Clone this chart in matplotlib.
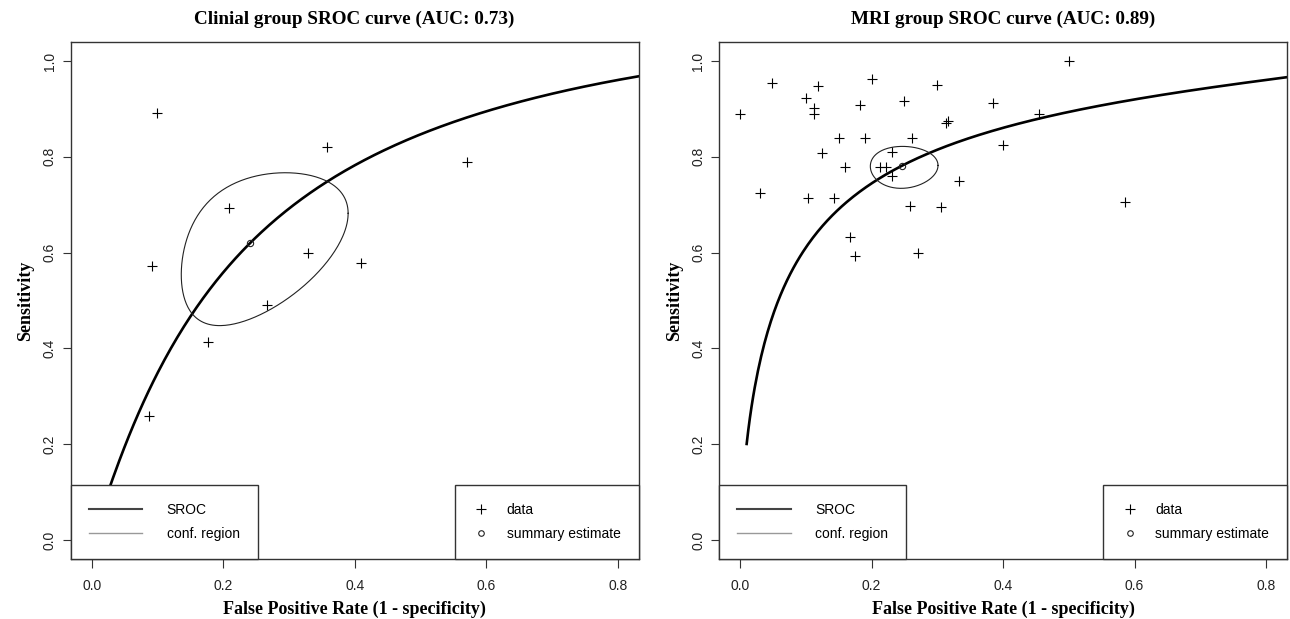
import numpy as np
import matplotlib.pyplot as plt
from matplotlib.lines import Line2D

# clinical group: study points (1 - specificity, sensitivity)
clin_fpr = [0.099, 0.358, 0.571, 0.209, 0.329, 0.092, 0.410, 0.266, 0.177, 0.087]
clin_sens = [0.891, 0.821, 0.789, 0.693, 0.600, 0.571, 0.579, 0.491, 0.413, 0.258]
clin_summary = (0.241, 0.620)
clin_sroc = (1.709, 1.063)          # logit(sens) = a + b*logit(fpr)
clin_region = (0.70, 0.70, 0.39)    # half-widths in logit space, correlation
clin_title = 'Clinial group SROC curve (AUC: 0.73)'

# MRI group
mri_fpr = [0.000, 0.048, 0.118, 0.101, 0.112, 0.112, 0.200, 0.183, 0.250, 0.300,
           0.500, 0.385, 0.455, 0.313, 0.316, 0.151, 0.190, 0.261, 0.400, 0.125,
           0.231, 0.159, 0.213, 0.222, 0.231, 0.333, 0.030, 0.103, 0.143, 0.258,
           0.305, 0.585, 0.167, 0.175, 0.270]
mri_sens = [0.889, 0.954, 0.948, 0.923, 0.902, 0.889, 0.962, 0.909, 0.916, 0.950,
            1.000, 0.913, 0.889, 0.871, 0.875, 0.840, 0.840, 0.840, 0.824, 0.807,
            0.810, 0.778, 0.778, 0.778, 0.760, 0.749, 0.725, 0.714, 0.714, 0.697,
            0.696, 0.706, 0.632, 0.593, 0.600]
mri_summary = (0.246, 0.781)
mri_sroc = (2.128, 0.764)
mri_region = (0.278, 0.256, 0.02)
mri_title = 'MRI group SROC curve (AUC: 0.89)'

xticks = [0.0, 0.2, 0.4, 0.6, 0.8]
yticks = [0.0, 0.2, 0.4, 0.6, 0.8, 1.0]

sans = 'Liberation Sans'
serif = 'Liberation Serif'


def logit(p):
    p = np.asarray(p)
    return np.log(p/(1-p))


def expit(z):
    return 1/(1+np.exp(-z))


def sroc_panel(ax, fpr, sens, summary, sroc, region, title):
    # sroc curve
    f = np.linspace(0.01, 0.99, 400)
    a, b = sroc
    ax.plot(f, expit(a + b*logit(f)), color='black', lw=1.9, zorder=2)

    # confidence region: ellipse in logit space, back-transformed
    t = np.linspace(0, 2*np.pi, 300)
    hx, hy, r = region
    cx, cy = logit(summary[0]), logit(summary[1])
    ex = cx + hx*np.cos(t)
    ey = cy + hy*(r*np.cos(t) + np.sqrt(1-r**2)*np.sin(t))
    ax.plot(expit(ex), expit(ey), color='#222222', lw=0.8, zorder=2)

    ax.plot(fpr, sens, '+', color='black', ms=7.5, mew=0.8, zorder=3)
    ax.plot(summary[0], summary[1], 'o', mfc='none', mec='#222222', ms=4.5,
            mew=0.8, zorder=3)

    ax.set_xlim(-0.032, 0.832)
    ax.set_ylim(-0.04, 1.04)
    ax.set_xticks(xticks)
    ax.set_yticks(yticks)
    ax.set_xticklabels(['%.1f' % v for v in xticks], family=sans, fontsize=10,
                       color='#222222')
    ax.set_yticklabels(['%.1f' % v for v in yticks], family=sans, fontsize=10,
                       color='#222222', rotation=90, va='center')
    ax.tick_params(axis='x', length=6.5, width=0.8, pad=8, color='#333333')
    ax.tick_params(axis='y', length=6, width=0.8, pad=4, color='#333333')
    for s in ax.spines.values():
        s.set_linewidth(1.0)
        s.set_color('#333333')

    ax.set_title(title, family=serif, fontsize=13.8, fontweight='bold', pad=13)
    ax.set_xlabel('False Positive Rate (1 - specificity)', family=serif,
                  fontsize=13, fontweight='bold', labelpad=5)
    ax.set_ylabel('Sensitivity', family=serif, fontsize=13,
                  fontweight='bold', labelpad=6)

    # legends
    h1 = [Line2D([], [], color='#444444', lw=1.5),
          Line2D([], [], color='#999999', lw=1.0)]
    leg1 = ax.legend(h1, ['SROC', 'conf. region'], loc='lower left',
                     borderaxespad=0, fancybox=False, framealpha=1,
                     edgecolor='#333333', prop={'family': sans, 'size': 10},
                     borderpad=1.3, handlelength=3.85, handletextpad=1.75,
                     labelspacing=0.75)
    leg1.get_frame().set_linewidth(1.0)
    ax.add_artist(leg1)

    h2 = [Line2D([], [], ls='none', marker='+', color='black', ms=7, mew=0.8),
          Line2D([], [], ls='none', marker='o', mfc='none', mec='#222222',
                 ms=4, mew=0.8)]
    leg2 = ax.legend(h2, ['data', 'summary estimate'], loc='lower right',
                     borderaxespad=0, fancybox=False, framealpha=1,
                     edgecolor='#333333', prop={'family': sans, 'size': 10},
                     borderpad=1.3, handlelength=1.25, handletextpad=1.2,
                     labelspacing=0.75, numpoints=1)
    leg2.get_frame().set_linewidth(1.0)


fig = plt.figure(figsize=(12.9, 6.19), dpi=100)
ax1 = fig.add_axes([0.0548, 0.0966, 0.4403, 0.8359])
ax2 = fig.add_axes([0.5574, 0.0966, 0.4403, 0.8359])

sroc_panel(ax1, clin_fpr, clin_sens, clin_summary, clin_sroc, clin_region,
           clin_title)
sroc_panel(ax2, mri_fpr, mri_sens, mri_summary, mri_sroc, mri_region,
           mri_title)

fig.savefig('out.png', dpi=100)
